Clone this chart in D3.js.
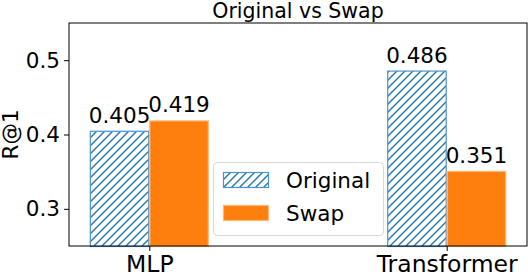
<!DOCTYPE html>
<html>
<head>
<meta charset="utf-8">
<script src="https://cdn.jsdelivr.net/npm/d3@7"></script>
<style>
  body { margin: 0; background: #fff; }
  text { font-family: "DejaVu Sans", sans-serif; fill: #000; }
</style>
</head>
<body>
<div id="chart"></div>
<script>
// Data
var models = ["MLP", "Transformer"];
var seriesNames = ["Original", "Swap"];
var originalValues = [0.405, 0.486];
var swapValues = [0.419, 0.351];
var yTickValues = [0.3, 0.4, 0.5];

// SVG area
var svgWidth = 528;
var svgHeight = 274;
var margin = { top: 23, right: 1, bottom: 28, left: 69 };
var width = svgWidth - margin.left - margin.right;
var height = svgHeight - margin.top - margin.bottom;

var blue = "#1f77b4";
var orange = "#ff7f0e";
var barWidth = 0.2;

var svg = d3.select("#chart")
  .append("svg")
  .attr("width", svgWidth)
  .attr("height", svgHeight);

// hatch pattern for the Original bars
var defs = svg.append("defs");
var hatch = defs.append("pattern")
  .attr("id", "hatch")
  .attr("patternUnits", "userSpaceOnUse")
  .attr("width", 8)
  .attr("height", 8);
hatch.append("rect").attr("width", 8).attr("height", 8).attr("fill", "#fff");
hatch.append("path")
  .attr("d", "M-2,2 L2,-2 M0,8 L8,0 M6,10 L10,6")
  .attr("stroke", blue)
  .attr("stroke-width", 1.4);

var chartGroup = svg.append("g")
  .attr("transform", `translate(${margin.left}, ${margin.top})`);

// x is numeric like matplotlib: categories at 0, 1 with 5% margins
var xScale = d3.scaleLinear()
  .domain([-0.27, 1.27])
  .range([0, width]);

var yScale = d3.scaleLinear()
  .domain([0.25, 0.55])
  .range([height, 0]);

// bars
var bars = [];
models.forEach(function(m, i) {
  bars.push({ series: 0, x: i - barWidth / 2, value: originalValues[i] });
  bars.push({ series: 1, x: i + barWidth / 2, value: swapValues[i] });
});

var barW = xScale(barWidth) - xScale(0);

chartGroup.selectAll(".bar")
  .data(bars)
  .enter()
  .append("rect")
  .attr("class", "bar")
  .attr("x", d => xScale(d.x) - barW / 2 + 0.5)
  .attr("y", d => yScale(d.value) + 0.5)
  .attr("width", barW - 1)
  .attr("height", d => height - yScale(d.value))
  .attr("fill", d => d.series === 0 ? "url(#hatch)" : orange)
  .attr("stroke", d => d.series === 0 ? "#4a93cb" : "#ffb877")
  .attr("stroke-width", 1.2);

// value labels
chartGroup.selectAll(".valueLabel")
  .data(bars)
  .enter()
  .append("text")
  .attr("class", "valueLabel")
  .attr("x", d => xScale(d.x))
  .attr("y", d => yScale(d.value) - 8)
  .attr("text-anchor", "middle")
  .style("font-size", "21.5px")
  .text(d => d.value.toFixed(3));

// axes
var leftAxis = d3.axisLeft(yScale)
  .tickValues(yTickValues)
  .tickSize(5)
  .tickPadding(4)
  .tickFormat(d3.format(".1f"));

var bottomAxis = d3.axisBottom(xScale)
  .tickValues([0, 1])
  .tickSize(5)
  .tickPadding(3)
  .tickFormat((d, i) => models[i]);

var yAxis = chartGroup.append("g").call(leftAxis);
yAxis.select(".domain").remove();
yAxis.selectAll("text").style("font-size", "21.5px");

var xAxis = chartGroup.append("g")
  .attr("transform", `translate(0, ${height})`)
  .call(bottomAxis);
xAxis.select(".domain").remove();
xAxis.selectAll("text").style("font-size", "23.5px").attr("dy", "0.75em");

// frame
chartGroup.append("rect")
  .attr("x", 0)
  .attr("y", 0)
  .attr("width", width)
  .attr("height", height)
  .attr("fill", "none")
  .attr("stroke", "#000")
  .attr("stroke-width", 1);

// title
svg.append("text")
  .attr("x", margin.left + width / 2)
  .attr("y", 17.5)
  .attr("text-anchor", "middle")
  .style("font-size", "20.5px")
  .text("Original vs Swap");

// y label
svg.append("text")
  .attr("transform", `translate(18, ${margin.top + height / 2}) rotate(-90)`)
  .attr("text-anchor", "middle")
  .style("font-size", "21.5px")
  .text("R@1");

// legend
var legend = svg.append("g").attr("transform", "translate(213, 162)");
legend.append("rect")
  .attr("x", 0.5)
  .attr("y", 0.5)
  .attr("width", 170)
  .attr("height", 73)
  .attr("rx", 4)
  .attr("fill", "#fff")
  .attr("fill-opacity", 0.8)
  .attr("stroke", "#d9d9d9");

seriesNames.forEach(function(name, i) {
  var row = legend.append("g").attr("transform", `translate(10, ${10 + i * 33})`);
  row.append("rect")
    .attr("x", 0.5)
    .attr("y", 0.5)
    .attr("width", 45)
    .attr("height", 15)
    .attr("fill", i === 0 ? "url(#hatch)" : orange)
    .attr("stroke", i === 0 ? "#4a93cb" : "#ffb877")
    .attr("stroke-width", 1.2);
  row.append("text")
    .attr("x", 63)
    .attr("y", 8)
    .attr("dy", "0.35em")
    .style("font-size", "21.5px")
    .text(name);
});
</script>
</body>
</html>
